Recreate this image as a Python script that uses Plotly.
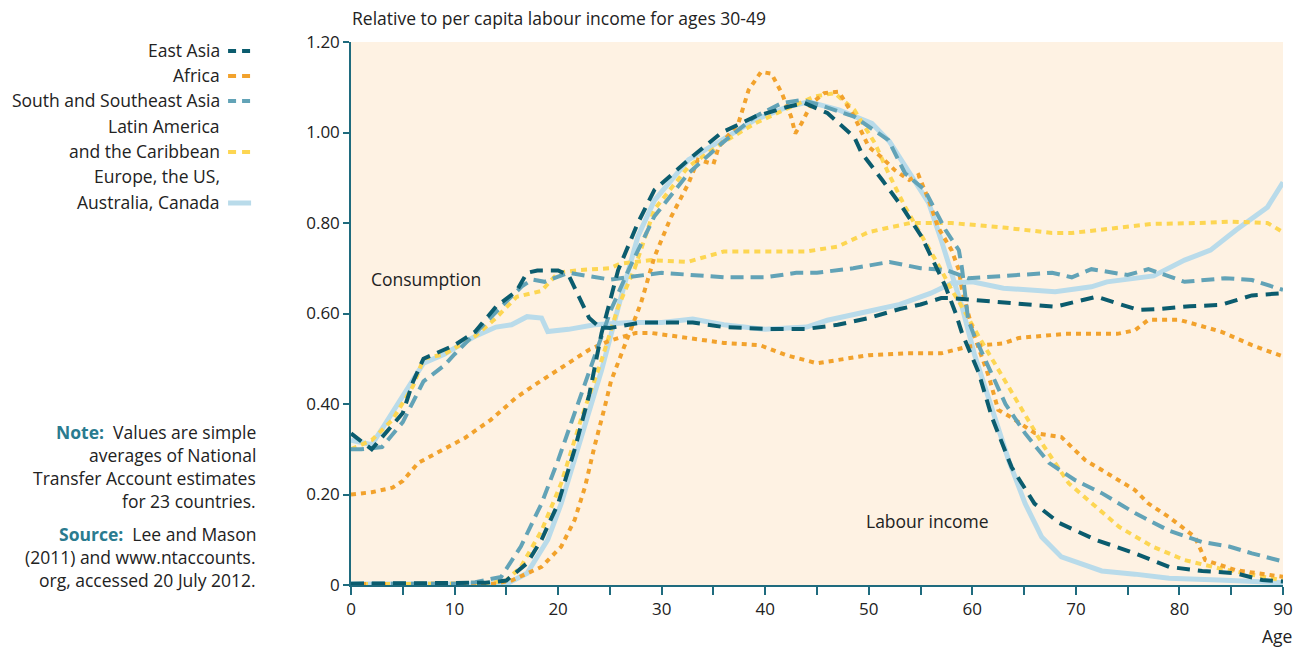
import plotly.graph_objects as go

# ---------------- data ----------------
ea_c_age = [0, 2, 5, 6, 7, 8, 10, 12, 14, 16, 17, 18, 20, 21, 23, 24, 25, 28, 30, 33, 36, 40, 44, 47, 50, 53, 55, 57, 58, 60, 64, 68, 72, 76, 78, 81, 84, 87, 90]
ea_c_val = [0.335, 0.30, 0.38, 0.45, 0.50, 0.51, 0.53, 0.56, 0.615, 0.65, 0.69, 0.695, 0.695, 0.685, 0.59, 0.57, 0.568, 0.58, 0.58, 0.58, 0.57, 0.566, 0.566, 0.575, 0.59, 0.61, 0.62, 0.634, 0.634, 0.63, 0.623, 0.615, 0.637, 0.608, 0.61, 0.616, 0.619, 0.64, 0.645]

eu_c_age = [0, 2, 3, 4, 5, 7, 9, 12, 14, 15.5, 17, 18.4, 19, 21, 23.5, 27, 30, 33, 36, 40, 44, 46, 50, 53, 56, 58, 60, 63, 68, 71.5, 73, 77.5, 80.5, 83, 85.5, 88.5, 90]
eu_c_val = [0.32, 0.31, 0.345, 0.38, 0.42, 0.49, 0.51, 0.55, 0.57, 0.575, 0.593, 0.59, 0.56, 0.565, 0.575, 0.58, 0.58, 0.588, 0.575, 0.565, 0.57, 0.585, 0.605, 0.62, 0.645, 0.667, 0.67, 0.656, 0.648, 0.659, 0.67, 0.683, 0.718, 0.74, 0.785, 0.835, 0.89]

ssa_c_age = [0, 1, 3, 5, 7, 9, 10, 12.5, 14.5, 16.5, 17.5, 18.7, 21, 25, 28, 30, 36, 40, 43, 45, 48.5, 52, 55, 57.5, 59.6, 64.5, 67.7, 69.6, 71.5, 75, 77, 80.5, 84.4, 87, 90]
ssa_c_val = [0.30, 0.30, 0.305, 0.36, 0.45, 0.485, 0.51, 0.57, 0.615, 0.66, 0.675, 0.67, 0.69, 0.675, 0.685, 0.69, 0.68, 0.68, 0.69, 0.69, 0.70, 0.714, 0.70, 0.696, 0.678, 0.685, 0.69, 0.68, 0.698, 0.685, 0.698, 0.67, 0.678, 0.674, 0.652]

la_c_age = [0, 2, 4, 6, 7, 9, 12, 14, 16, 18.4, 20, 22, 25, 26, 29, 32.5, 36, 40, 44, 47, 50, 54, 58, 63, 67.7, 69.6, 74, 77.4, 82, 85, 88.5, 90]
la_c_val = [0.30, 0.32, 0.365, 0.44, 0.50, 0.51, 0.55, 0.59, 0.637, 0.65, 0.69, 0.696, 0.70, 0.71, 0.718, 0.714, 0.737, 0.737, 0.737, 0.748, 0.78, 0.80, 0.80, 0.79, 0.778, 0.778, 0.79, 0.798, 0.80, 0.803, 0.80, 0.78]

af_c_age = [0, 2, 4, 5, 6.5, 9, 11, 13.5, 16, 18, 20, 23, 25, 27.5, 29, 32.5, 36, 39.5, 42, 45, 47, 50, 53.5, 57, 59.6, 63, 64.5, 69, 74, 75.7, 77, 80, 84, 87, 90]
af_c_val = [0.20, 0.205, 0.215, 0.23, 0.27, 0.30, 0.325, 0.365, 0.415, 0.446, 0.475, 0.52, 0.54, 0.557, 0.557, 0.546, 0.535, 0.53, 0.508, 0.49, 0.497, 0.508, 0.512, 0.512, 0.527, 0.534, 0.546, 0.555, 0.555, 0.563, 0.586, 0.586, 0.56, 0.53, 0.505]

ea_l_age = [0, 10, 13, 15, 17, 18.4, 20, 21.6, 23, 24.2, 25.8, 27.7, 29.3, 32.6, 35.8, 39, 42.2, 43.8, 46, 48.6, 49.3, 51.3, 53.2, 55.1, 56.4, 57.4, 58.4, 59, 60.6, 61.9, 63.8, 66, 68.4, 71.9, 75.7, 79, 82.2, 85.4, 88, 90]
ea_l_val = [0.003, 0.003, 0.005, 0.01, 0.048, 0.10, 0.18, 0.30, 0.42, 0.557, 0.696, 0.80, 0.873, 0.94, 1.00, 1.035, 1.057, 1.065, 1.043, 0.99, 0.955, 0.895, 0.836, 0.77, 0.71, 0.66, 0.60, 0.557, 0.47, 0.37, 0.26, 0.18, 0.137, 0.10, 0.07, 0.04, 0.031, 0.026, 0.011, 0.008]

eu_l_age = [0, 15, 17, 19, 20.3, 22.2, 24.2, 26, 27.7, 29.3, 32.6, 35.8, 39, 42.2, 44.2, 47.1, 50.3, 52, 53.5, 55.8, 57, 58, 59, 60.2, 61.9, 63.5, 65.1, 66.7, 68.6, 72.5, 75.7, 79, 83.8, 90]
eu_l_val = [0.002, 0.002, 0.026, 0.10, 0.18, 0.32, 0.475, 0.63, 0.77, 0.85, 0.94, 0.983, 1.028, 1.057, 1.068, 1.05, 1.02, 0.98, 0.925, 0.844, 0.762, 0.69, 0.615, 0.51, 0.387, 0.276, 0.18, 0.106, 0.062, 0.031, 0.024, 0.015, 0.011, 0.005]

ssa_l_age = [0, 10, 12, 14.5, 16.4, 18.4, 20, 21.6, 23.5, 25.1, 26.8, 29.3, 32.6, 35.8, 39, 41.6, 43.5, 45.4, 48.6, 51.9, 53.5, 55.4, 57.4, 58.7, 59, 59.3, 59.6, 60.2, 61.6, 63.2, 65.1, 67.4, 69.9, 72.5, 75.7, 79, 82.2, 84.8, 87, 90]
ssa_l_val = [0.003, 0.003, 0.006, 0.018, 0.085, 0.18, 0.276, 0.38, 0.51, 0.608, 0.696, 0.815, 0.91, 0.976, 1.035, 1.065, 1.072, 1.06, 1.035, 0.983, 0.91, 0.873, 0.785, 0.74, 0.70, 0.637, 0.586, 0.55, 0.48, 0.40, 0.335, 0.27, 0.232, 0.203, 0.159, 0.12, 0.095, 0.085, 0.07, 0.052]

la_l_age = [0, 13, 15, 16.4, 18.4, 20.3, 22.2, 24.2, 25.8, 27.4, 29.3, 32.6, 35.8, 39, 42.2, 44.8, 46.7, 48.6, 50.6, 51.9, 53.5, 54.4, 55.8, 57, 58, 59, 60.6, 62.9, 64.8, 66.7, 69.3, 71.9, 74.2, 77.4, 80.5, 83.8, 87, 90]
la_l_val = [0.002, 0.003, 0.01, 0.04, 0.12, 0.225, 0.365, 0.497, 0.615, 0.70, 0.83, 0.925, 0.976, 1.02, 1.054, 1.08, 1.087, 1.05, 0.976, 0.91, 0.836, 0.80, 0.747, 0.696, 0.652, 0.615, 0.55, 0.46, 0.387, 0.314, 0.225, 0.173, 0.128, 0.085, 0.055, 0.037, 0.022, 0.01]

af_l_age = [0, 14, 15.5, 18.4, 20.3, 21.6, 22.6, 23.5, 24.5, 25.1, 26.1, 28, 29.3, 30.9, 32.6, 33.5, 35, 35.5, 37.4, 38.4, 39.6, 40.6, 41.6, 42.5, 42.9, 43.5, 44.5, 45.7, 47.1, 48.6, 50, 51.2, 52.5, 53.9, 54.8, 55.8, 56.7, 58, 58.7, 59, 59.6, 60.2, 61.6, 62.5, 63.8, 66, 68.6, 70.9, 72.5, 75.7, 77, 79, 81.5, 82.5, 85.4, 90]
af_l_val = [0.002, 0.003, 0.01, 0.04, 0.085, 0.144, 0.217, 0.305, 0.393, 0.45, 0.51, 0.623, 0.725, 0.813, 0.888, 0.94, 0.93, 0.968, 1.02, 1.094, 1.134, 1.13, 1.087, 1.035, 0.998, 1.02, 1.065, 1.087, 1.09, 1.035, 0.968, 0.946, 0.917, 0.895, 0.906, 0.85, 0.79, 0.74, 0.696, 0.652, 0.60, 0.55, 0.46, 0.387, 0.37, 0.336, 0.327, 0.276, 0.254, 0.21, 0.18, 0.15, 0.106, 0.055, 0.033, 0.018]

x_ticks = [0, 10, 20, 30, 40, 50, 60, 70, 80, 90]
y_ticks = [0, 0.2, 0.4, 0.6, 0.8, 1.0, 1.2]
y_labels = ["0", "0.20", "0.40", "0.60", "0.80", "1.00", "1.20"]

# ---------------- styles ----------------
C_EA = "#0b5c6e"
C_AF = "#f2a22c"
C_SSA = "#62a3b7"
C_LA = "#fdd652"
C_EU = "#b9dbea"
AXIS = "#1f6b7e"
FONT = "Open Sans"
FS = 17.5

# the page is photographed slightly compressed horizontally; compensate
SX = 0.9938
W, H = 1305, 648
PLOT_L, PLOT_R, PLOT_T, PLOT_B = 349, 1280, 42, 585   # target page pixels of plot area
L = round(PLOT_L / SX)
PW = round((PLOT_R - PLOT_L) / SX)
R = W - L - PW
T = PLOT_T
PH = PLOT_B - PLOT_T
B = H - T - PH


def px(x):
    return (x / SX - L) / PW


def py(y):
    return (PLOT_B - y) / PH


fig = go.Figure()

series = [
    (eu_c_age, eu_c_val, C_EU, "solid", 5),
    (eu_l_age, eu_l_val, C_EU, "solid", 5),
    (la_c_age, la_c_val, C_LA, "6px,5px", 4),
    (la_l_age, la_l_val, C_LA, "6px,5px", 4),
    (af_c_age, af_c_val, C_AF, "5px,5px", 4),
    (af_l_age, af_l_val, C_AF, "5px,5px", 4),
    (ssa_c_age, ssa_c_val, C_SSA, "13px,7px", 4),
    (ssa_l_age, ssa_l_val, C_SSA, "13px,7px", 4),
    (ea_c_age, ea_c_val, C_EA, "13px,8px", 4),
    (ea_l_age, ea_l_val, C_EA, "13px,8px", 4),
]
for a, v, c, d, w in series:
    fig.add_trace(go.Scatter(x=a, y=v, mode="lines", showlegend=False,
                             line=dict(color=c, dash=d, width=w), hoverinfo="skip"))

fig.update_layout(
    width=W, height=H,
    margin=dict(l=L, r=R, t=T, b=B),
    paper_bgcolor="white", plot_bgcolor="#fef2e3",
    font=dict(family=FONT, size=FS, color="#222222"),
    showlegend=False,
    xaxis=dict(range=[0, 90], tickvals=list(range(0, 95, 5)),
               ticktext=[str(t) if t in x_ticks else "" for t in range(0, 95, 5)],
               showgrid=False, zeroline=False, showline=True, linecolor=AXIS, linewidth=1.5,
               ticks="outside", ticklen=8, tickcolor=AXIS, tickwidth=1.5,
               tickfont=dict(size=17, color="#222222")),
    yaxis=dict(range=[0, 1.2], tickvals=y_ticks, ticktext=y_labels,
               showgrid=False, zeroline=False, showline=True, linecolor=AXIS, linewidth=1.5,
               ticks="outside", ticklen=6, tickcolor=AXIS, tickwidth=1.5,
               tickfont=dict(size=17, color="#222222")),
)

ann = []


def text(x, y, s, anchor="left", size=FS, color="#222222"):
    ann.append(dict(x=px(x), y=py(y), xref="paper", yref="paper", text=s, showarrow=False,
                    xanchor=anchor, yanchor="middle", font=dict(size=size, color=color, family=FONT)))


text(348, 18, "Relative to per capita labour income for ages 30-49")
text(1291, 636, "Age", anchor="right")
text(367, 279, "Consumption")
text(861, 521, "Labour income")

# legend (manual, text right-aligned with swatch on the right)
legend_items = [
    (["East Asia"], [50], C_EA, "8px,6px", 4),
    (["Africa"], [75], C_AF, "8px,6px", 4),
    (["South and Southeast Asia"], [100], C_SSA, "8px,6px", 4),
    (["Latin America", "and the Caribbean"], [126, 151], C_LA, "8px,6px", 4),
    (["Europe, the US,", "Australia, Canada"], [176, 202], C_EU, "solid", 5),
]
shapes = []
for lines, ys, c, d, w in legend_items:
    for s, y in zip(lines, ys):
        text(220, y, s, anchor="right")
    yl = ys[-1] + 1
    shapes.append(dict(type="line", xref="paper", yref="paper", x0=px(226), x1=px(249),
                       y0=py(yl), y1=py(yl), line=dict(color=c, width=w, dash=d)))

TEAL = "#2a7b8f"
note_lines = [
    (432, "<span style='color:%s'><b>Note:</b></span>  Values are simple" % TEAL),
    (455, "averages of National"),
    (478, "Transfer Account estimates"),
    (501, "for 23 countries."),
    (534, "<span style='color:%s'><b>Source:</b></span>  Lee and Mason" % TEAL),
    (557, "(2011) and www.ntaccounts."),
    (580, "org, accessed 20 July 2012."),
]
for y, s in note_lines:
    text(256, y, s, anchor="right")

fig.update_layout(annotations=ann, shapes=shapes)
fig.write_html("out.html", config={"displayModeBar": False},
               post_script="document.body.style.margin='0';document.body.style.overflow='hidden';")
